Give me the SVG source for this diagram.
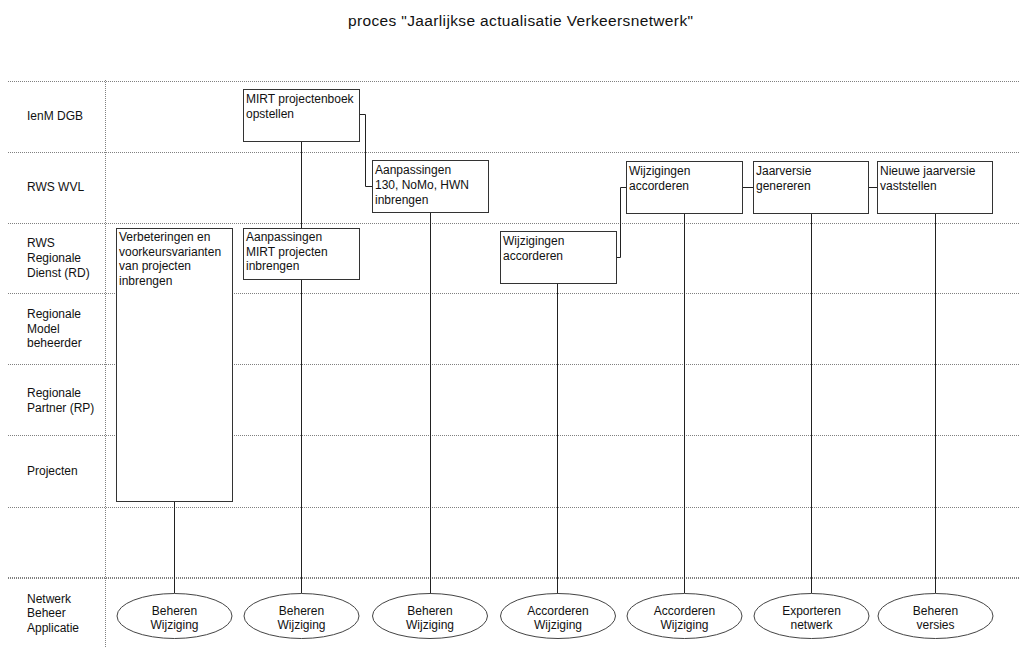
<svg xmlns="http://www.w3.org/2000/svg" width="1021" height="648" viewBox="0 0 1021 648">
<style>
text{font-family:"Liberation Sans",Arial,sans-serif;font-size:12px;fill:#111}
.title{font-size:15.5px}
.grid{stroke:#808080;stroke-width:1;stroke-dasharray:1 1;fill:none}
.box{fill:#fff;stroke:#333;stroke-width:1}
.ell{fill:#fff;stroke:#444;stroke-width:1}
.con{stroke:#222;stroke-width:1;fill:none}
.c{text-anchor:middle}
</style>
<rect width="1021" height="648" fill="#fff"/>
<text class="title" x="348" y="25.5" textLength="345" lengthAdjust="spacing">proces "Jaarlijkse actualisatie Verkeersnetwerk"</text>

<g id="grid">
<line class="grid" x1="8" y1="81.5" x2="1020" y2="81.5"/>
<line class="grid" x1="8" y1="152.5" x2="1020" y2="152.5"/>
<line class="grid" x1="8" y1="223.5" x2="1020" y2="223.5"/>
<line class="grid" x1="8" y1="293.5" x2="1020" y2="293.5"/>
<line class="grid" x1="8" y1="364.5" x2="1020" y2="364.5"/>
<line class="grid" x1="8" y1="435.5" x2="1020" y2="435.5"/>
<line class="grid" x1="8" y1="507.5" x2="1020" y2="507.5"/>
<line class="grid" x1="8" y1="578" x2="1020" y2="578" style="stroke-width:2"/>
<line class="grid" x1="105.5" y1="80" x2="105.5" y2="648"/>
</g>

<g id="lanes">
<text x="27" y="120">IenM DGB</text>
<text x="27" y="191">RWS WVL</text>
<text x="27" y="247">RWS</text>
<text x="27" y="262">Regionale</text>
<text x="27" y="277">Dienst (RD)</text>
<text x="27" y="318">Regionale</text>
<text x="27" y="333">Model</text>
<text x="27" y="347">beheerder</text>
<text x="27" y="397">Regionale</text>
<text x="27" y="412">Partner (RP)</text>
<text x="27" y="475">Projecten</text>
<text x="27" y="603">Netwerk</text>
<text x="27" y="617">Beheer</text>
<text x="27" y="632">Applicatie</text>
</g>

<g id="connectors">
<line class="con" x1="174.5" y1="501.5" x2="174.5" y2="593.5"/>
<line class="con" x1="301.5" y1="141.5" x2="301.5" y2="593.5"/>
<line class="con" x1="430.5" y1="212.5" x2="430.5" y2="593.5"/>
<line class="con" x1="557.5" y1="283.5" x2="557.5" y2="593.5"/>
<line class="con" x1="684.5" y1="213.5" x2="684.5" y2="593.5"/>
<line class="con" x1="811.5" y1="213.5" x2="811.5" y2="593.5"/>
<line class="con" x1="935.5" y1="213.5" x2="935.5" y2="593.5"/>
<polyline class="con" points="359.5,114.5 365.5,114.5 365.5,186.5 372.5,186.5"/>
<polyline class="con" points="616.5,257.5 620.5,257.5 620.5,187.5 626.5,187.5"/>
<line class="con" x1="742.5" y1="187.5" x2="753.5" y2="187.5"/>
<line class="con" x1="868.5" y1="187.5" x2="877.5" y2="187.5"/>
</g>

<g id="n-mirt-boek">
<rect class="box" x="243.5" y="89.5" width="116" height="52"/>
<text x="246" y="103">MIRT projectenboek</text>
<text x="246" y="117.5">opstellen</text>
</g>
<g id="n-verbeteringen">
<rect class="box" x="116.5" y="228.5" width="116" height="273"/>
<text x="119" y="241">Verbeteringen en</text>
<text x="119" y="255.5">voorkeursvarianten</text>
<text x="119" y="270">van projecten</text>
<text x="119" y="284.5">inbrengen</text>
</g>
<g id="n-aanp-mirt">
<rect class="box" x="243.5" y="228.5" width="116" height="51"/>
<text x="246" y="241">Aanpassingen</text>
<text x="246" y="255.5">MIRT projecten</text>
<text x="246" y="270">inbrengen</text>
</g>
<g id="n-aanp-130">
<rect class="box" x="372.5" y="160.5" width="116" height="52"/>
<text x="375" y="174">Aanpassingen</text>
<text x="375" y="189">130, NoMo, HWN</text>
<text x="375" y="203.5">inbrengen</text>
</g>
<g id="n-wijz-rd">
<rect class="box" x="500.5" y="231.5" width="116" height="52"/>
<text x="503" y="245">Wijzigingen</text>
<text x="503" y="259.5">accorderen</text>
</g>
<g id="n-wijz-wvl">
<rect class="box" x="626.5" y="161.5" width="116" height="52"/>
<text x="629" y="175">Wijzigingen</text>
<text x="629" y="189.5">accorderen</text>
</g>
<g id="n-jaarversie">
<rect class="box" x="753.5" y="161.5" width="115" height="52"/>
<text x="756" y="175">Jaarversie</text>
<text x="756" y="189.5">genereren</text>
</g>
<g id="n-nieuwe">
<rect class="box" x="877.5" y="161.5" width="115" height="52"/>
<text x="880" y="175">Nieuwe jaarversie</text>
<text x="880" y="189.5">vaststellen</text>
</g>

<g id="e1"><ellipse class="ell" cx="174.5" cy="616" rx="57.5" ry="22.5"/><text class="c" x="174.5" y="614.5">Beheren</text><text class="c" x="174.5" y="628.5">Wijziging</text></g>
<g id="e2"><ellipse class="ell" cx="301.5" cy="616" rx="57.5" ry="22.5"/><text class="c" x="301.5" y="614.5">Beheren</text><text class="c" x="301.5" y="628.5">Wijziging</text></g>
<g id="e3"><ellipse class="ell" cx="430" cy="616" rx="57.5" ry="22.5"/><text class="c" x="430" y="614.5">Beheren</text><text class="c" x="430" y="628.5">Wijziging</text></g>
<g id="e4"><ellipse class="ell" cx="558" cy="616" rx="57.5" ry="22.5"/><text class="c" x="558" y="614.5">Accorderen</text><text class="c" x="558" y="628.5">Wijziging</text></g>
<g id="e5"><ellipse class="ell" cx="684.5" cy="616" rx="57.5" ry="22.5"/><text class="c" x="684.5" y="614.5">Accorderen</text><text class="c" x="684.5" y="628.5">Wijziging</text></g>
<g id="e6"><ellipse class="ell" cx="811.5" cy="616" rx="57.5" ry="22.5"/><text class="c" x="811.5" y="614.5">Exporteren</text><text class="c" x="811.5" y="628.5">netwerk</text></g>
<g id="e7"><ellipse class="ell" cx="935.5" cy="616" rx="57.5" ry="22.5"/><text class="c" x="935.5" y="614.5">Beheren</text><text class="c" x="935.5" y="628.5">versies</text></g>
</svg>
